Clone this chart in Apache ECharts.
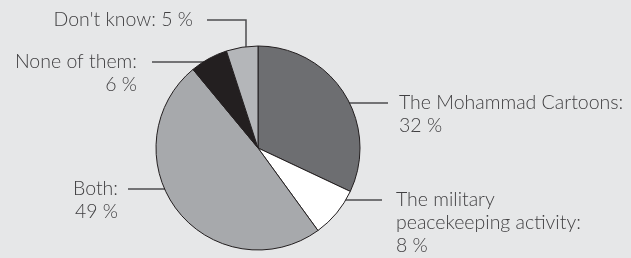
<!DOCTYPE html>
<html>
<head>
<meta charset="utf-8">
<script src="https://cdn.jsdelivr.net/npm/echarts@6/dist/echarts.min.js"></script>
<style>
    html, body { margin: 0; padding: 0; background: #e6e7e8; }
    #chart { width: 631px; height: 258px; }
</style>
</head>
<body>
<div id="chart"></div>
<script>
// data
const categories = ['The Mohammad Cartoons', 'The military\npeacekeeping activity', 'Both', 'None of them', "Don't know"]
const shares = [32, 8, 49, 6, 5]
const sliceColors = ['#6d6e71', '#ffffff', '#a7a9ac', '#231f20', '#b4b6b9']

// where each label and its leader line sit
const labelSpots = [
    { x: 399, y: 103, align: 'left', line: [[320, 103], [388, 103]] },
    { x: 396, y: 200, align: 'left', line: [[318, 200], [382, 200]] },
    { x: 118, y: 189, align: 'right', line: [[190, 189], [128, 189]] },
    { x: 137, y: 62, align: 'right', line: [[205, 62], [152, 62]] },
    { x: 193, y: 20, align: 'right', line: [[246, 72], [246, 20], [207, 20]] }
]
const lineH = 23

const chart = echarts.init(document.getElementById('chart'))

const option = {
    backgroundColor: '#e6e7e8',
    animation: false,
    series: [
        {
            type: 'pie',
            center: [258, 148],
            radius: 102,
            startAngle: 90,
            clockwise: true,
            data: categories.map((name, i) => ({
                name: name,
                value: shares[i],
                itemStyle: { color: sliceColors[i] }
            })),
            itemStyle: {
                borderColor: '#231f20',
                borderWidth: 1
            },
            emphasis: { disabled: true },
            label: {
                show: true,
                position: 'outside',
                formatter: p => p.name + ':' + (p.dataIndex === 4 ? ' ' : '\n') + p.value + ' %',
                fontFamily: 'Lato',
                fontWeight: 300,
                fontSize: 19.5,
                lineHeight: lineH,
                color: '#414042'
            },
            labelLine: {
                show: true,
                lineStyle: { color: '#4d4d4f', width: 1.5 }
            },
            labelLayout: params => {
                const s = labelSpots[params.dataIndex]
                return {
                    x: s.x,
                    y: s.y - lineH / 2,
                    align: s.align,
                    verticalAlign: 'top',
                    labelLinePoints: s.line
                }
            }
        }
    ]
}

chart.setOption(option)
</script>
</body>
</html>
